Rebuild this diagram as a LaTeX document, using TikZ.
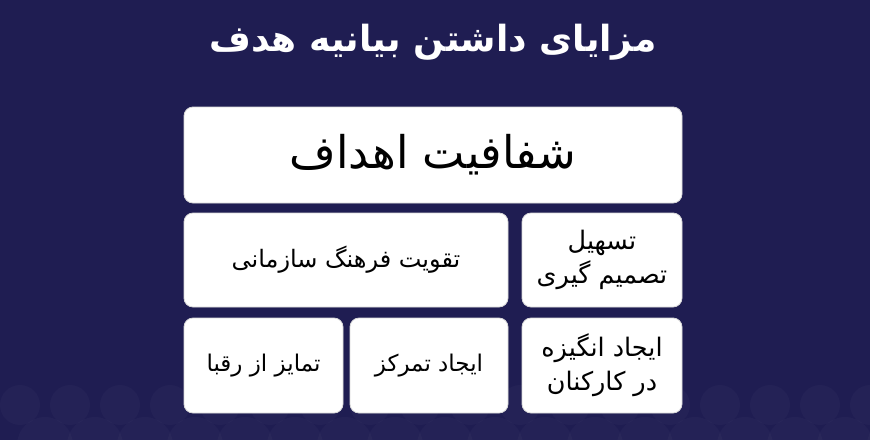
\documentclass[tikz,border=0pt]{standalone}
\usepackage{fontspec}
\newfontfamily\fa[Script=Arabic]{DejaVu Sans}
\TeXXeTstate=1
\definecolor{bgnavy}{HTML}{1F1D52}
\tikzset{
  card/.style={draw=gray!30, fill=white, rounded corners=9pt, line width=0.8pt, inner sep=0pt, align=center, text=black},
  blob/.style={fill=white, opacity=0.022}
}
\begin{document}
\begin{tikzpicture}[x=1pt,y=-1pt]
\useasboundingbox (0,0) rectangle (870,440);
\fill[bgnavy] (0,0) rectangle (870,440);
% faint decorative pattern
\begin{scope}
\clip (0,385) rectangle (870,440);
\foreach \cx in {20,70,120,170,220,270,320,370,420,470,520,570,620,670,720,770,820,870}{
  \fill[blob] (\cx,405) circle (20);
  \fill[blob] (\cx+25,445) circle (28);
}
\end{scope}
% title
\node[text=white, font=\fa\bfseries\fontsize{36}{40}\selectfont] (title) at (433,42) {\beginR مزایای داشتن بیانیه هدف\endR};
% cards
\node[card, minimum width=498pt, minimum height=96pt, font=\fa\fontsize{45}{50}\selectfont] (goals) at (433,155) {\beginR شفافیت اهداف\endR};
\node[card, minimum width=324pt, minimum height=94pt, font=\fa\fontsize{24}{30}\selectfont] (culture) at (346,260) {\beginR تقویت فرهنگ سازمانی\endR};
\node[card, minimum width=160pt, minimum height=94pt, font=\fa\fontsize{25.5}{34}\selectfont] (decide) at (602,260) {\beginR تسهیل\endR\\\beginR تصمیم گیری\endR};
\node[card, minimum width=159pt, minimum height=95pt, font=\fa\fontsize{23}{30}\selectfont] (compet) at (263.5,365.5) {\beginR تمایز از رقبا\endR};
\node[card, minimum width=158pt, minimum height=95pt, font=\fa\fontsize{23}{30}\selectfont] (focus) at (429,365.5) {\beginR ایجاد تمرکز\endR};
\node[card, minimum width=160pt, minimum height=95pt, font=\fa\fontsize{25.5}{34}\selectfont] (motiv) at (602,365.5) {\beginR ایجاد انگیزه\endR\\\beginR در کارکنان\endR};
\end{tikzpicture}
\end{document}
